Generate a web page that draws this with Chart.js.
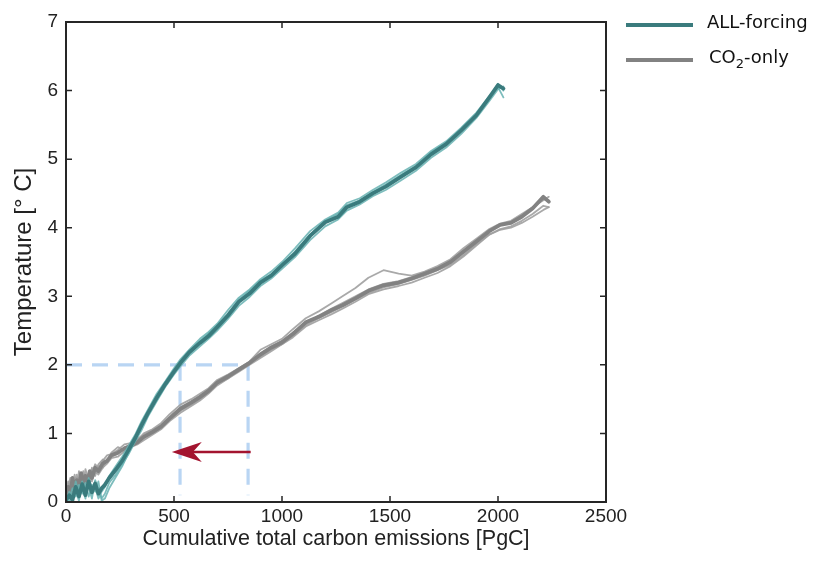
<!DOCTYPE html>
<html>
<head>
<meta charset="utf-8">
<script src="https://cdn.jsdelivr.net/npm/chart.js@4.4.1/dist/chart.umd.min.js"></script>
<style>
  body { margin: 0; background: #fff; }
  #wrap { position: relative; width: 815px; height: 562px; }
  .leg { position: absolute; left: 626px; font-family: "DejaVu Sans", sans-serif; font-size: 18px; color: #111; }
  .leg .swatch { position: absolute; left: 0; width: 67px; height: 4px; }
  .leg span.txt { position: absolute; left: 81px; white-space: nowrap; line-height: 1; }
  .leg sub { font-size: 13px; vertical-align: -5px; line-height: 0; }
</style>
</head>
<body>
<div id="wrap">
  <canvas id="c" width="815" height="562"></canvas>
  <div class="leg" style="top:23px">
    <div class="swatch" style="background:#3a7b7d"></div>
    <span class="txt" style="top:-10px">ALL-forcing</span>
  </div>
  <div class="leg" style="top:58px">
    <div class="swatch" style="background:#828282"></div>
    <span class="txt" style="top:-10px;left:83px">CO<sub>2</sub>-only</span>
  </div>
</div>
<script>
// --- data ---
const xTicks = [0, 500, 1000, 1500, 2000, 2500];
const yTicks = [0, 1, 2, 3, 4, 5, 6, 7];

// ALL-forcing runs
const allX = [0, 15, 30, 45, 60, 75, 90, 105, 120, 135, 150, 165, 180, 200, 230, 260, 290, 320, 350, 380,
  420, 460, 500, 530, 570, 620, 660, 700, 750, 800, 850, 900, 950, 1000, 1060, 1130, 1200, 1260, 1300, 1360,
  1420, 1480, 1550, 1620, 1690, 1760, 1830, 1900, 1960, 2000, 2025];
const allMean = [0.02, 0.1, 0.03, 0.22, 0.08, 0.26, 0.1, 0.3, 0.14, 0.27, 0.12, 0.2, 0.25, 0.35, 0.47, 0.6, 0.76, 0.93, 1.12, 1.3,
  1.52, 1.72, 1.9, 2.03, 2.18, 2.32, 2.42, 2.55, 2.72, 2.92, 3.04, 3.2, 3.3, 3.45, 3.62, 3.88, 4.08, 4.16, 4.3, 4.38,
  4.5, 4.6, 4.74, 4.88, 5.07, 5.22, 5.42, 5.64, 5.9, 6.08, 6.03];
const allRunA = [0.0, 0.15, 0.05, 0.3, 0.12, 0.2, 0.05, 0.35, 0.2, 0.22, 0.05, 0.15, 0.22, 0.38, 0.52, 0.66, 0.82, 0.98, 1.18, 1.35,
  1.58, 1.76, 1.95, 2.08, 2.22, 2.38, 2.48, 2.6, 2.8, 2.98, 3.1, 3.25, 3.36, 3.5, 3.7, 3.95, 4.12, 4.22, 4.36, 4.43,
  4.55, 4.66, 4.8, 4.93, 5.12, 5.26, 5.46, 5.68, 5.92, 6.05, 5.9];
const allRunB = [0.05, 0.0, 0.12, 0.15, 0.02, 0.3, 0.15, 0.22, 0.05, 0.32, 0.2, 0.05, 0.12, 0.28, 0.4, 0.55, 0.7, 0.88, 1.05, 1.25,
  1.47, 1.68, 1.86, 1.98, 2.13, 2.27, 2.38, 2.5, 2.67, 2.86, 2.99, 3.15, 3.26, 3.4, 3.57, 3.82, 4.02, 4.12, 4.25, 4.34,
  4.46, 4.55, 4.69, 4.83, 5.02, 5.17, 5.37, 5.6, 5.85, 6.02, 6.06];
const allRunC = [0.1, 0.05, 0.2, 0.08, 0.25, 0.12, 0.28, 0.08, 0.25, 0.15, 0.3, 0.02, 0.05, 0.2, 0.36, 0.52, 0.72, 0.95, 1.15, 1.33,
  1.55, 1.75, 1.92, 2.06, 2.2, 2.35, 2.46, 2.58, 2.75, 2.95, 3.08, 3.23, 3.32, 3.47, 3.65, 3.9, 4.1, 4.2, 4.33, 4.4,
  4.52, 4.63, 4.77, 4.9, 5.1, 5.24, 5.44, 5.66, 5.9, 6.1, 6.0];

// CO2-only runs
const co2X = [0, 10, 20, 30, 40, 50, 60, 70, 80, 90, 100, 110, 120, 135, 150, 170, 190, 210, 240, 270,
  300, 330, 360, 400, 440, 480, 530, 580, 620, 660, 700, 750, 800, 850, 900, 950, 1000, 1050, 1110, 1170,
  1230, 1280, 1340, 1400, 1470, 1540, 1600, 1660, 1720, 1780, 1840, 1900, 1960, 2010, 2060, 2110, 2160, 2210, 2235];
const co2Mean = [0.05, 0.22, 0.08, 0.35, 0.15, 0.32, 0.2, 0.42, 0.25, 0.38, 0.3, 0.45, 0.35, 0.5, 0.45, 0.56, 0.6, 0.68, 0.72, 0.78,
  0.82, 0.87, 0.95, 1.02, 1.1, 1.22, 1.36, 1.45, 1.53, 1.62, 1.74, 1.83, 1.93, 2.03, 2.15, 2.25, 2.33, 2.45, 2.62, 2.7,
  2.8, 2.87, 2.97, 3.08, 3.16, 3.2, 3.26, 3.33, 3.4, 3.5, 3.65, 3.8, 3.95, 4.04, 4.07, 4.16, 4.28, 4.45, 4.38];
const co2RunA = [0.1, 0.3, 0.05, 0.25, 0.4, 0.12, 0.35, 0.28, 0.45, 0.2, 0.4, 0.35, 0.5, 0.42, 0.55, 0.62, 0.58, 0.72, 0.8, 0.76,
  0.85, 0.9, 1.0, 1.06, 1.15, 1.28, 1.42, 1.5, 1.58, 1.66, 1.78, 1.86, 1.95, 2.05, 2.22, 2.3, 2.38, 2.52, 2.68, 2.78,
  2.9, 3.0, 3.12, 3.27, 3.38, 3.33, 3.3, 3.36, 3.44, 3.54, 3.7, 3.84, 3.98, 4.06, 4.1, 4.2, 4.3, 4.42, 4.4];
const co2RunB = [0.0, 0.15, 0.25, 0.1, 0.3, 0.2, 0.45, 0.15, 0.35, 0.3, 0.22, 0.4, 0.3, 0.46, 0.4, 0.5, 0.56, 0.64, 0.66, 0.74,
  0.8, 0.84, 0.9, 0.98, 1.06, 1.18, 1.3, 1.4, 1.48, 1.58, 1.7, 1.8, 1.9, 2.0, 2.1, 2.2, 2.3, 2.4, 2.56, 2.65,
  2.74, 2.82, 2.92, 3.03, 3.1, 3.15, 3.2, 3.27, 3.34, 3.44, 3.58, 3.74, 3.9, 3.98, 4.02, 4.1, 4.2, 4.32, 4.3];
const co2RunC = [0.08, 0.2, 0.35, 0.15, 0.28, 0.4, 0.18, 0.38, 0.22, 0.48, 0.35, 0.3, 0.42, 0.55, 0.5, 0.6, 0.68, 0.7, 0.76, 0.84,
  0.86, 0.92, 0.98, 1.05, 1.12, 1.24, 1.38, 1.47, 1.55, 1.64, 1.76, 1.85, 1.95, 2.04, 2.17, 2.27, 2.35, 2.47, 2.6, 2.72,
  2.82, 2.9, 3.0, 3.1, 3.18, 3.22, 3.28, 3.35, 3.42, 3.52, 3.67, 3.82, 3.96, 4.05, 4.08, 4.18, 4.3, 4.4, 4.45];
const co2RunD = [0.02, 0.12, 0.3, 0.2, 0.1, 0.35, 0.25, 0.18, 0.4, 0.28, 0.36, 0.25, 0.48, 0.38, 0.52, 0.5, 0.62, 0.66, 0.7, 0.8,
  0.83, 0.86, 0.93, 1.0, 1.08, 1.2, 1.33, 1.42, 1.5, 1.6, 1.72, 1.8, 1.92, 2.02, 2.12, 2.22, 2.3, 2.42, 2.58, 2.68,
  2.77, 2.85, 2.95, 3.05, 3.13, 3.18, 3.24, 3.3, 3.38, 3.46, 3.6, 3.76, 3.9, 3.97, 4.0, 4.07, 4.16, 4.26, 4.3];

// 2 degree guide lines and arrow
const guideHX = [0, 843], guideHY = [2, 2];
const guideV1X = [528, 528], guideV1Y = [2, 0.1];
const guideV2X = [843, 843], guideV2Y = [2, 0.1];
const arrowX = [855, 490], arrowY = [0.73, 0.73];

const TEAL = '#3a7b7d', TEAL_LIGHT = 'rgba(102,178,178,0.85)';
const GREY = '#828282', GREY_LIGHT = 'rgba(160,160,160,0.9)';
const GUIDE = '#b9d5f3';

function pts(xs, ys) { return xs.map((x, i) => ({ x: x, y: ys[i] })); }

function line(xs, ys, color, width, order, dash) {
  return {
    data: pts(xs, ys), showLine: true, borderColor: color, borderWidth: width,
    pointRadius: 0, fill: false, tension: 0, order: order, borderDash: dash || [],
    borderJoinStyle: 'round', borderCapStyle: dash ? 'butt' : 'round'
  };
}

const datasets = [
  line(guideHX, guideHY, GUIDE, 3.2, 10, [16, 10]),
  line(guideV1X, guideV1Y, GUIDE, 3.2, 10, [16, 10]),
  line(guideV2X, guideV2Y, GUIDE, 3.2, 10, [16, 10]),
  line(co2X, co2RunA, GREY_LIGHT, 1.8, 5),
  line(co2X, co2RunB, GREY_LIGHT, 1.8, 5),
  line(co2X, co2RunC, GREY_LIGHT, 1.8, 5),
  line(co2X, co2RunD, GREY_LIGHT, 1.8, 5),
  line(co2X, co2Mean, GREY, 3.8, 4),
  line(allX, allRunA, TEAL_LIGHT, 1.8, 3),
  line(allX, allRunB, TEAL_LIGHT, 1.8, 3),
  line(allX, allRunC, TEAL_LIGHT, 1.8, 3),
  line(allX, allMean, TEAL, 3.8, 2)
];

// box with inward ticks on all four sides + red arrow
const framePlugin = {
  id: 'frame',
  afterDatasetsDraw(chart) {
    const { ctx, chartArea: a, scales: { x, y } } = chart;
    // arrow
    const x0 = x.getPixelForValue(arrowX[0]), x1 = x.getPixelForValue(arrowX[1]);
    const ya = y.getPixelForValue(arrowY[0]);
    ctx.save();
    ctx.strokeStyle = '#a3142f';
    ctx.fillStyle = '#a3142f';
    ctx.lineWidth = 2.5;
    ctx.beginPath();
    ctx.moveTo(x0, ya);
    ctx.lineTo(x1 + 20, ya);
    ctx.stroke();
    ctx.beginPath();
    ctx.moveTo(x1, ya);
    ctx.lineTo(x1 + 30, ya - 10);
    ctx.lineTo(x1 + 21, ya);
    ctx.lineTo(x1 + 30, ya + 10);
    ctx.closePath();
    ctx.fill();
    ctx.restore();

    ctx.save();
    ctx.strokeStyle = '#262626';
    ctx.lineWidth = 2;
    ctx.strokeRect(a.left, a.top, a.right - a.left, a.bottom - a.top);
    ctx.lineWidth = 1.5;
    const tl = 6;
    ctx.beginPath();
    xTicks.forEach(v => {
      const px = x.getPixelForValue(v);
      ctx.moveTo(px, a.bottom); ctx.lineTo(px, a.bottom - tl);
      ctx.moveTo(px, a.top); ctx.lineTo(px, a.top + tl);
    });
    yTicks.forEach(v => {
      const py = y.getPixelForValue(v);
      ctx.moveTo(a.left, py); ctx.lineTo(a.left + tl, py);
      ctx.moveTo(a.right, py); ctx.lineTo(a.right - tl, py);
    });
    ctx.stroke();
    ctx.restore();
  }
};

const tickFont = { family: '"Liberation Sans", Arial, sans-serif', size: 19 };

new Chart(document.getElementById('c'), {
  type: 'scatter',
  data: { datasets: datasets },
  options: {
    responsive: false,
    animation: false,
    layout: { padding: { left: 0, top: 22, right: 209, bottom: 0 } },
    plugins: { legend: { display: false }, tooltip: { enabled: false } },
    scales: {
      x: {
        type: 'linear', min: 0, max: 2500,
        afterBuildTicks: s => { s.ticks = xTicks.map(v => ({ value: v })); },
        afterFit: s => { s.height = 60; },
        grid: { display: false, drawTicks: false },
        border: { display: false },
        ticks: { color: '#222', font: tickFont, padding: 3, maxRotation: 0, callback: v => String(v) },
        title: { display: true, text: 'Cumulative total carbon emissions [PgC]', color: '#222',
          font: { family: '"Liberation Sans", Arial, sans-serif', size: 21.5 }, padding: { top: 0, bottom: 10 } }
      },
      y: {
        type: 'linear', min: 0, max: 7,
        afterBuildTicks: s => { s.ticks = yTicks.map(v => ({ value: v })); },
        afterFit: s => { s.width = 66; },
        grid: { display: false, drawTicks: false },
        border: { display: false },
        ticks: { color: '#222', font: tickFont, padding: 8, callback: v => String(v) },
        title: { display: true, text: 'Temperature [° C]', color: '#222',
          font: { family: '"Liberation Sans", Arial, sans-serif', size: 24 }, padding: { top: 10, bottom: 0 } }
      }
    }
  },
  plugins: [framePlugin]
});
</script>
</body>
</html>
